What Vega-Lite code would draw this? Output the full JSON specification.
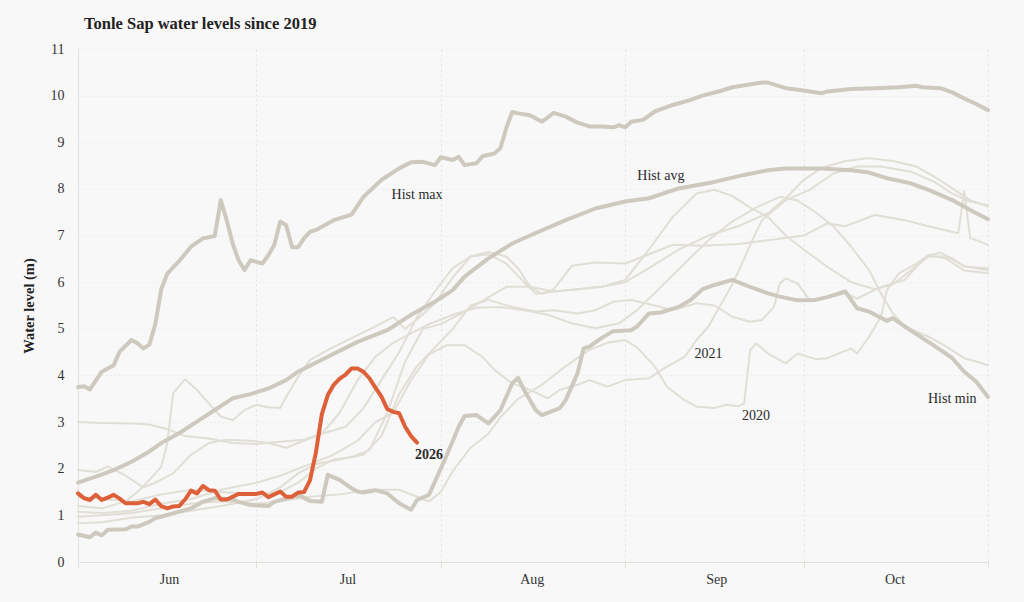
{
  "$schema": "https://vega.github.io/schema/vega-lite/v6.json",
  "width": 910,
  "height": 513,
  "autosize": {"type": "none"},
  "padding": {"left": 78, "top": 49, "right": 36, "bottom": 40},
  "background": "#f8f8f8",
  "title": {
    "text": "Tonle Sap water levels since 2019",
    "anchor": "start",
    "frame": "group",
    "dx": 6,
    "offset": 10,
    "font": "Liberation Serif",
    "fontSize": 16.5,
    "fontWeight": "bold",
    "color": "#222222"
  },
  "config": {
    "view": {"stroke": null},
    "font": "Liberation Serif",
    "axis": {
      "labelFont": "Liberation Serif",
      "labelFontSize": 14,
      "labelColor": "#333333",
      "titleFont": "Liberation Serif",
      "titleColor": "#222222",
      "domainColor": "#e2dfd8",
      "tickColor": "#e2dfd8",
      "gridColor": "#e4e4e4",
      "gridDash": [1, 3]
    }
  },
  "datasets": {
    "lines": [
      {"s":"2019","t":"2026-06-01","v":0.83},{"s":"2019","t":"2026-06-05","v":0.85},{"s":"2019","t":"2026-06-10","v":0.95},{"s":"2019","t":"2026-06-15","v":1.0},{"s":"2019","t":"2026-06-20","v":1.1},{"s":"2019","t":"2026-06-25","v":1.2},{"s":"2019","t":"2026-07-01","v":1.35},{"s":"2019","t":"2026-07-05","v":1.6},{"s":"2019","t":"2026-07-08","v":1.9},{"s":"2019","t":"2026-07-11","v":2.1},{"s":"2019","t":"2026-07-15","v":2.2},{"s":"2019","t":"2026-07-19","v":2.3},{"s":"2019","t":"2026-07-22","v":2.7},{"s":"2019","t":"2026-07-25","v":3.6},{"s":"2019","t":"2026-07-28","v":4.2},{"s":"2019","t":"2026-07-31","v":4.6},{"s":"2019","t":"2026-08-03","v":5.0},{"s":"2019","t":"2026-08-06","v":5.5},{"s":"2019","t":"2026-08-09","v":5.62},{"s":"2019","t":"2026-08-13","v":5.47},{"s":"2019","t":"2026-08-17","v":5.37},{"s":"2019","t":"2026-08-20","v":5.4},{"s":"2019","t":"2026-08-24","v":5.33},{"s":"2019","t":"2026-08-27","v":5.4},{"s":"2019","t":"2026-08-30","v":5.58},{"s":"2019","t":"2026-09-02","v":5.62},{"s":"2019","t":"2026-09-06","v":5.5},{"s":"2019","t":"2026-09-09","v":5.4},{"s":"2019","t":"2026-09-13","v":5.55},{"s":"2019","t":"2026-09-16","v":5.5},{"s":"2019","t":"2026-09-19","v":5.26},{"s":"2019","t":"2026-09-22","v":5.15},{"s":"2019","t":"2026-09-24","v":5.19},{"s":"2019","t":"2026-09-26","v":5.47},{"s":"2019","t":"2026-09-27","v":5.97},{"s":"2019","t":"2026-09-28","v":6.08},{"s":"2019","t":"2026-09-30","v":5.97},{"s":"2019","t":"2026-10-02","v":5.62},{"s":"2019","t":"2026-10-06","v":5.7},{"s":"2019","t":"2026-10-08","v":5.76},{"s":"2019","t":"2026-10-10","v":5.65},{"s":"2019","t":"2026-10-14","v":5.9},{"s":"2019","t":"2026-10-18","v":6.05},{"s":"2019","t":"2026-10-20","v":6.33},{"s":"2019","t":"2026-10-22","v":6.58},{"s":"2019","t":"2026-10-25","v":6.5},{"s":"2019","t":"2026-10-28","v":6.25},{"s":"2019","t":"2026-11-01","v":6.19},
      {"s":"2020","t":"2026-06-01","v":0.97},{"s":"2020","t":"2026-06-05","v":1.0},{"s":"2020","t":"2026-06-10","v":1.05},{"s":"2020","t":"2026-06-15","v":1.15},{"s":"2020","t":"2026-06-20","v":1.25},{"s":"2020","t":"2026-06-25","v":1.3},{"s":"2020","t":"2026-07-01","v":1.25},{"s":"2020","t":"2026-07-05","v":1.3},{"s":"2020","t":"2026-07-10","v":1.4},{"s":"2020","t":"2026-07-15","v":1.45},{"s":"2020","t":"2026-07-20","v":1.55},{"s":"2020","t":"2026-07-25","v":1.55},{"s":"2020","t":"2026-07-28","v":1.4},{"s":"2020","t":"2026-07-30","v":1.3},{"s":"2020","t":"2026-08-01","v":1.5},{"s":"2020","t":"2026-08-03","v":1.95},{"s":"2020","t":"2026-08-06","v":2.45},{"s":"2020","t":"2026-08-09","v":2.75},{"s":"2020","t":"2026-08-11","v":3.1},{"s":"2020","t":"2026-08-14","v":3.5},{"s":"2020","t":"2026-08-18","v":3.8},{"s":"2020","t":"2026-08-22","v":4.2},{"s":"2020","t":"2026-08-26","v":4.55},{"s":"2020","t":"2026-08-29","v":4.7},{"s":"2020","t":"2026-09-01","v":4.76},{"s":"2020","t":"2026-09-03","v":4.6},{"s":"2020","t":"2026-09-06","v":4.19},{"s":"2020","t":"2026-09-08","v":3.76},{"s":"2020","t":"2026-09-11","v":3.47},{"s":"2020","t":"2026-09-13","v":3.33},{"s":"2020","t":"2026-09-16","v":3.3},{"s":"2020","t":"2026-09-18","v":3.37},{"s":"2020","t":"2026-09-20","v":3.34},{"s":"2020","t":"2026-09-21","v":3.4},{"s":"2020","t":"2026-09-22","v":4.54},{"s":"2020","t":"2026-09-23","v":4.69},{"s":"2020","t":"2026-09-25","v":4.47},{"s":"2020","t":"2026-09-28","v":4.26},{"s":"2020","t":"2026-09-30","v":4.47},{"s":"2020","t":"2026-10-03","v":4.35},{"s":"2020","t":"2026-10-05","v":4.37},{"s":"2020","t":"2026-10-09","v":4.58},{"s":"2020","t":"2026-10-10","v":4.47},{"s":"2020","t":"2026-10-12","v":4.83},{"s":"2020","t":"2026-10-14","v":5.26},{"s":"2020","t":"2026-10-15","v":5.83},{"s":"2020","t":"2026-10-17","v":6.19},{"s":"2020","t":"2026-10-20","v":6.4},{"s":"2020","t":"2026-10-22","v":6.58},{"s":"2020","t":"2026-10-24","v":6.63},{"s":"2020","t":"2026-10-26","v":6.51},{"s":"2020","t":"2026-10-28","v":6.33},{"s":"2020","t":"2026-11-01","v":6.3},
      {"s":"2021","t":"2026-06-01","v":1.08},{"s":"2021","t":"2026-06-05","v":1.05},{"s":"2021","t":"2026-06-10","v":1.1},{"s":"2021","t":"2026-06-15","v":1.25},{"s":"2021","t":"2026-06-20","v":1.35},{"s":"2021","t":"2026-06-25","v":1.55},{"s":"2021","t":"2026-07-01","v":1.7},{"s":"2021","t":"2026-07-05","v":1.85},{"s":"2021","t":"2026-07-10","v":2.1},{"s":"2021","t":"2026-07-14","v":2.3},{"s":"2021","t":"2026-07-18","v":2.6},{"s":"2021","t":"2026-07-21","v":3.0},{"s":"2021","t":"2026-07-24","v":3.2},{"s":"2021","t":"2026-07-27","v":3.9},{"s":"2021","t":"2026-07-30","v":4.45},{"s":"2021","t":"2026-08-02","v":4.65},{"s":"2021","t":"2026-08-05","v":4.65},{"s":"2021","t":"2026-08-08","v":4.4},{"s":"2021","t":"2026-08-10","v":4.12},{"s":"2021","t":"2026-08-13","v":3.83},{"s":"2021","t":"2026-08-16","v":3.69},{"s":"2021","t":"2026-08-19","v":3.51},{"s":"2021","t":"2026-08-21","v":3.69},{"s":"2021","t":"2026-08-24","v":3.8},{"s":"2021","t":"2026-08-26","v":3.9},{"s":"2021","t":"2026-08-29","v":3.76},{"s":"2021","t":"2026-09-01","v":3.9},{"s":"2021","t":"2026-09-05","v":3.94},{"s":"2021","t":"2026-09-08","v":4.19},{"s":"2021","t":"2026-09-11","v":4.4},{"s":"2021","t":"2026-09-13","v":4.76},{"s":"2021","t":"2026-09-15","v":5.05},{"s":"2021","t":"2026-09-17","v":5.5},{"s":"2021","t":"2026-09-19","v":5.95},{"s":"2021","t":"2026-09-21","v":6.5},{"s":"2021","t":"2026-09-22","v":6.8},{"s":"2021","t":"2026-09-24","v":7.33},{"s":"2021","t":"2026-09-28","v":7.76},{"s":"2021","t":"2026-10-02","v":7.98},{"s":"2021","t":"2026-10-06","v":8.33},{"s":"2021","t":"2026-10-10","v":8.48},{"s":"2021","t":"2026-10-14","v":8.48},{"s":"2021","t":"2026-10-19","v":8.37},{"s":"2021","t":"2026-10-23","v":8.15},{"s":"2021","t":"2026-10-26","v":7.9},{"s":"2021","t":"2026-10-29","v":7.73},{"s":"2021","t":"2026-11-01","v":7.65},
      {"s":"2022","t":"2026-06-01","v":1.2},{"s":"2022","t":"2026-06-05","v":1.15},{"s":"2022","t":"2026-06-09","v":1.3},{"s":"2022","t":"2026-06-11","v":1.5},{"s":"2022","t":"2026-06-13","v":1.76},{"s":"2022","t":"2026-06-15","v":2.04},{"s":"2022","t":"2026-06-16","v":2.54},{"s":"2022","t":"2026-06-17","v":3.62},{"s":"2022","t":"2026-06-19","v":3.92},{"s":"2022","t":"2026-06-21","v":3.69},{"s":"2022","t":"2026-06-23","v":3.4},{"s":"2022","t":"2026-06-25","v":3.12},{"s":"2022","t":"2026-06-27","v":3.04},{"s":"2022","t":"2026-06-29","v":3.26},{"s":"2022","t":"2026-07-01","v":3.37},{"s":"2022","t":"2026-07-03","v":3.32},{"s":"2022","t":"2026-07-05","v":3.3},{"s":"2022","t":"2026-07-06","v":3.54},{"s":"2022","t":"2026-07-08","v":3.97},{"s":"2022","t":"2026-07-10","v":4.33},{"s":"2022","t":"2026-07-13","v":4.55},{"s":"2022","t":"2026-07-17","v":4.8},{"s":"2022","t":"2026-07-21","v":5.05},{"s":"2022","t":"2026-07-24","v":5.25},{"s":"2022","t":"2026-07-26","v":5.0},{"s":"2022","t":"2026-07-28","v":5.2},{"s":"2022","t":"2026-07-31","v":5.55},{"s":"2022","t":"2026-08-03","v":6.1},{"s":"2022","t":"2026-08-06","v":6.55},{"s":"2022","t":"2026-08-09","v":6.65},{"s":"2022","t":"2026-08-12","v":6.55},{"s":"2022","t":"2026-08-14","v":6.3},{"s":"2022","t":"2026-08-16","v":5.9},{"s":"2022","t":"2026-08-18","v":5.75},{"s":"2022","t":"2026-08-20","v":5.85},{"s":"2022","t":"2026-08-23","v":6.35},{"s":"2022","t":"2026-08-27","v":6.42},{"s":"2022","t":"2026-09-01","v":6.4},{"s":"2022","t":"2026-09-05","v":6.6},{"s":"2022","t":"2026-09-09","v":6.8},{"s":"2022","t":"2026-09-14","v":6.78},{"s":"2022","t":"2026-09-20","v":6.82},{"s":"2022","t":"2026-09-25","v":6.9},{"s":"2022","t":"2026-10-01","v":7.0},{"s":"2022","t":"2026-10-05","v":7.26},{"s":"2022","t":"2026-10-08","v":7.2},{"s":"2022","t":"2026-10-13","v":7.44},{"s":"2022","t":"2026-10-18","v":7.33},{"s":"2022","t":"2026-10-22","v":7.2},{"s":"2022","t":"2026-10-27","v":7.05},{"s":"2022","t":"2026-10-28","v":7.95},{"s":"2022","t":"2026-10-29","v":6.95},{"s":"2022","t":"2026-11-01","v":6.8},
      {"s":"2023","t":"2026-06-01","v":3.0},{"s":"2023","t":"2026-06-05","v":2.98},{"s":"2023","t":"2026-06-10","v":2.97},{"s":"2023","t":"2026-06-13","v":2.95},{"s":"2023","t":"2026-06-16","v":2.85},{"s":"2023","t":"2026-06-19","v":2.7},{"s":"2023","t":"2026-06-23","v":2.65},{"s":"2023","t":"2026-06-27","v":2.55},{"s":"2023","t":"2026-07-01","v":2.53},{"s":"2023","t":"2026-07-05","v":2.58},{"s":"2023","t":"2026-07-09","v":2.62},{"s":"2023","t":"2026-07-12","v":2.75},{"s":"2023","t":"2026-07-16","v":2.9},{"s":"2023","t":"2026-07-19","v":3.3},{"s":"2023","t":"2026-07-22","v":3.9},{"s":"2023","t":"2026-07-25","v":4.5},{"s":"2023","t":"2026-07-28","v":5.25},{"s":"2023","t":"2026-07-31","v":5.8},{"s":"2023","t":"2026-08-03","v":6.3},{"s":"2023","t":"2026-08-06","v":6.55},{"s":"2023","t":"2026-08-09","v":6.6},{"s":"2023","t":"2026-08-12","v":6.4},{"s":"2023","t":"2026-08-15","v":6.0},{"s":"2023","t":"2026-08-17","v":5.75},{"s":"2023","t":"2026-08-20","v":5.8},{"s":"2023","t":"2026-08-24","v":5.85},{"s":"2023","t":"2026-08-28","v":5.9},{"s":"2023","t":"2026-09-01","v":6.0},{"s":"2023","t":"2026-09-05","v":6.3},{"s":"2023","t":"2026-09-10","v":6.7},{"s":"2023","t":"2026-09-15","v":7.0},{"s":"2023","t":"2026-09-20","v":7.2},{"s":"2023","t":"2026-09-25","v":7.48},{"s":"2023","t":"2026-09-28","v":7.8},{"s":"2023","t":"2026-10-01","v":8.19},{"s":"2023","t":"2026-10-04","v":8.45},{"s":"2023","t":"2026-10-08","v":8.6},{"s":"2023","t":"2026-10-12","v":8.66},{"s":"2023","t":"2026-10-16","v":8.6},{"s":"2023","t":"2026-10-20","v":8.48},{"s":"2023","t":"2026-10-23","v":8.26},{"s":"2023","t":"2026-10-26","v":8.01},{"s":"2023","t":"2026-10-29","v":7.76},{"s":"2023","t":"2026-11-01","v":7.62},
      {"s":"2024","t":"2026-06-01","v":1.97},{"s":"2024","t":"2026-06-04","v":1.93},{"s":"2024","t":"2026-06-06","v":2.05},{"s":"2024","t":"2026-06-09","v":1.85},{"s":"2024","t":"2026-06-12","v":1.6},{"s":"2024","t":"2026-06-14","v":1.7},{"s":"2024","t":"2026-06-17","v":1.9},{"s":"2024","t":"2026-06-20","v":2.3},{"s":"2024","t":"2026-06-23","v":2.55},{"s":"2024","t":"2026-06-26","v":2.62},{"s":"2024","t":"2026-06-30","v":2.6},{"s":"2024","t":"2026-07-03","v":2.55},{"s":"2024","t":"2026-07-06","v":2.45},{"s":"2024","t":"2026-07-09","v":2.6},{"s":"2024","t":"2026-07-12","v":2.75},{"s":"2024","t":"2026-07-15","v":3.2},{"s":"2024","t":"2026-07-18","v":3.9},{"s":"2024","t":"2026-07-21","v":4.4},{"s":"2024","t":"2026-07-24","v":4.7},{"s":"2024","t":"2026-07-27","v":4.9},{"s":"2024","t":"2026-07-30","v":5.1},{"s":"2024","t":"2026-08-03","v":5.3},{"s":"2024","t":"2026-08-07","v":5.45},{"s":"2024","t":"2026-08-11","v":5.47},{"s":"2024","t":"2026-08-15","v":5.4},{"s":"2024","t":"2026-08-19","v":5.3},{"s":"2024","t":"2026-08-23","v":5.12},{"s":"2024","t":"2026-08-27","v":5.01},{"s":"2024","t":"2026-08-31","v":5.12},{"s":"2024","t":"2026-09-03","v":5.4},{"s":"2024","t":"2026-09-07","v":5.9},{"s":"2024","t":"2026-09-11","v":6.4},{"s":"2024","t":"2026-09-15","v":6.9},{"s":"2024","t":"2026-09-19","v":7.3},{"s":"2024","t":"2026-09-23","v":7.6},{"s":"2024","t":"2026-09-27","v":7.83},{"s":"2024","t":"2026-09-30","v":7.75},{"s":"2024","t":"2026-10-03","v":7.5},{"s":"2024","t":"2026-10-06","v":7.2},{"s":"2024","t":"2026-10-09","v":6.76},{"s":"2024","t":"2026-10-12","v":6.26},{"s":"2024","t":"2026-10-14","v":5.76},{"s":"2024","t":"2026-10-16","v":5.33},{"s":"2024","t":"2026-10-18","v":5.05},{"s":"2024","t":"2026-10-22","v":4.83},{"s":"2024","t":"2026-10-25","v":4.62},{"s":"2024","t":"2026-10-28","v":4.37},{"s":"2024","t":"2026-10-30","v":4.3},{"s":"2024","t":"2026-11-01","v":4.22},
      {"s":"2025","t":"2026-06-01","v":1.4},{"s":"2025","t":"2026-06-05","v":1.35},{"s":"2025","t":"2026-06-10","v":1.3},{"s":"2025","t":"2026-06-15","v":1.45},{"s":"2025","t":"2026-06-20","v":1.55},{"s":"2025","t":"2026-06-25","v":1.5},{"s":"2025","t":"2026-07-01","v":1.45},{"s":"2025","t":"2026-07-05","v":1.5},{"s":"2025","t":"2026-07-08","v":1.7},{"s":"2025","t":"2026-07-11","v":2.0},{"s":"2025","t":"2026-07-14","v":2.2},{"s":"2025","t":"2026-07-17","v":2.25},{"s":"2025","t":"2026-07-20","v":2.4},{"s":"2025","t":"2026-07-23","v":3.2},{"s":"2025","t":"2026-07-26","v":4.3},{"s":"2025","t":"2026-07-29","v":5.0},{"s":"2025","t":"2026-08-01","v":5.1},{"s":"2025","t":"2026-08-04","v":5.3},{"s":"2025","t":"2026-08-08","v":5.6},{"s":"2025","t":"2026-08-12","v":5.9},{"s":"2025","t":"2026-08-16","v":5.9},{"s":"2025","t":"2026-08-20","v":5.8},{"s":"2025","t":"2026-08-24","v":5.85},{"s":"2025","t":"2026-08-28","v":5.9},{"s":"2025","t":"2026-09-01","v":6.05},{"s":"2025","t":"2026-09-05","v":6.7},{"s":"2025","t":"2026-09-09","v":7.4},{"s":"2025","t":"2026-09-13","v":7.9},{"s":"2025","t":"2026-09-16","v":7.98},{"s":"2025","t":"2026-09-19","v":7.85},{"s":"2025","t":"2026-09-22","v":7.6},{"s":"2025","t":"2026-09-25","v":7.4},{"s":"2025","t":"2026-09-28","v":7.0},{"s":"2025","t":"2026-10-01","v":6.7},{"s":"2025","t":"2026-10-05","v":6.33},{"s":"2025","t":"2026-10-09","v":6.0},{"s":"2025","t":"2026-10-13","v":5.85},{"s":"2025","t":"2026-10-16","v":5.95},{"s":"2025","t":"2026-10-19","v":6.25},{"s":"2025","t":"2026-10-22","v":6.55},{"s":"2025","t":"2026-10-25","v":6.55},{"s":"2025","t":"2026-10-28","v":6.35},{"s":"2025","t":"2026-11-01","v":6.25},
      {"s":"Hist max","t":"2026-06-01","v":3.75},{"s":"Hist max","t":"2026-06-02","v":3.77},{"s":"Hist max","t":"2026-06-03","v":3.7},{"s":"Hist max","t":"2026-06-05","v":4.08},{"s":"Hist max","t":"2026-06-07","v":4.22},{"s":"Hist max","t":"2026-06-08","v":4.51},{"s":"Hist max","t":"2026-06-10","v":4.76},{"s":"Hist max","t":"2026-06-11","v":4.69},{"s":"Hist max","t":"2026-06-12","v":4.58},{"s":"Hist max","t":"2026-06-13","v":4.66},{"s":"Hist max","t":"2026-06-14","v":5.1},{"s":"Hist max","t":"2026-06-15","v":5.85},{"s":"Hist max","t":"2026-06-16","v":6.18},{"s":"Hist max","t":"2026-06-17","v":6.32},{"s":"Hist max","t":"2026-06-18","v":6.45},{"s":"Hist max","t":"2026-06-20","v":6.76},{"s":"Hist max","t":"2026-06-22","v":6.94},{"s":"Hist max","t":"2026-06-24","v":6.99},{"s":"Hist max","t":"2026-06-25","v":7.76},{"s":"Hist max","t":"2026-06-26","v":7.33},{"s":"Hist max","t":"2026-06-27","v":6.83},{"s":"Hist max","t":"2026-06-28","v":6.47},{"s":"Hist max","t":"2026-06-29","v":6.26},{"s":"Hist max","t":"2026-06-30","v":6.47},{"s":"Hist max","t":"2026-07-02","v":6.4},{"s":"Hist max","t":"2026-07-03","v":6.58},{"s":"Hist max","t":"2026-07-04","v":6.8},{"s":"Hist max","t":"2026-07-05","v":7.3},{"s":"Hist max","t":"2026-07-06","v":7.22},{"s":"Hist max","t":"2026-07-07","v":6.75},{"s":"Hist max","t":"2026-07-08","v":6.75},{"s":"Hist max","t":"2026-07-09","v":6.94},{"s":"Hist max","t":"2026-07-10","v":7.08},{"s":"Hist max","t":"2026-07-11","v":7.12},{"s":"Hist max","t":"2026-07-14","v":7.33},{"s":"Hist max","t":"2026-07-17","v":7.45},{"s":"Hist max","t":"2026-07-19","v":7.83},{"s":"Hist max","t":"2026-07-22","v":8.19},{"s":"Hist max","t":"2026-07-25","v":8.44},{"s":"Hist max","t":"2026-07-27","v":8.57},{"s":"Hist max","t":"2026-07-29","v":8.58},{"s":"Hist max","t":"2026-07-31","v":8.51},{"s":"Hist max","t":"2026-08-01","v":8.68},{"s":"Hist max","t":"2026-08-03","v":8.62},{"s":"Hist max","t":"2026-08-04","v":8.69},{"s":"Hist max","t":"2026-08-05","v":8.51},{"s":"Hist max","t":"2026-08-07","v":8.55},{"s":"Hist max","t":"2026-08-08","v":8.7},{"s":"Hist max","t":"2026-08-10","v":8.76},{"s":"Hist max","t":"2026-08-11","v":8.87},{"s":"Hist max","t":"2026-08-12","v":9.3},{"s":"Hist max","t":"2026-08-13","v":9.65},{"s":"Hist max","t":"2026-08-14","v":9.62},{"s":"Hist max","t":"2026-08-16","v":9.58},{"s":"Hist max","t":"2026-08-18","v":9.44},{"s":"Hist max","t":"2026-08-20","v":9.63},{"s":"Hist max","t":"2026-08-22","v":9.55},{"s":"Hist max","t":"2026-08-24","v":9.42},{"s":"Hist max","t":"2026-08-26","v":9.34},{"s":"Hist max","t":"2026-08-28","v":9.34},{"s":"Hist max","t":"2026-08-30","v":9.32},{"s":"Hist max","t":"2026-08-31","v":9.37},{"s":"Hist max","t":"2026-09-01","v":9.32},{"s":"Hist max","t":"2026-09-02","v":9.44},{"s":"Hist max","t":"2026-09-04","v":9.48},{"s":"Hist max","t":"2026-09-06","v":9.66},{"s":"Hist max","t":"2026-09-09","v":9.8},{"s":"Hist max","t":"2026-09-12","v":9.91},{"s":"Hist max","t":"2026-09-14","v":10.0},{"s":"Hist max","t":"2026-09-17","v":10.1},{"s":"Hist max","t":"2026-09-19","v":10.18},{"s":"Hist max","t":"2026-09-24","v":10.28},{"s":"Hist max","t":"2026-09-25","v":10.28},{"s":"Hist max","t":"2026-09-28","v":10.16},{"s":"Hist max","t":"2026-10-01","v":10.11},{"s":"Hist max","t":"2026-10-04","v":10.05},{"s":"Hist max","t":"2026-10-05","v":10.09},{"s":"Hist max","t":"2026-10-09","v":10.14},{"s":"Hist max","t":"2026-10-13","v":10.16},{"s":"Hist max","t":"2026-10-17","v":10.18},{"s":"Hist max","t":"2026-10-20","v":10.21},{"s":"Hist max","t":"2026-10-21","v":10.18},{"s":"Hist max","t":"2026-10-24","v":10.16},{"s":"Hist max","t":"2026-10-26","v":10.07},{"s":"Hist max","t":"2026-10-28","v":9.94},{"s":"Hist max","t":"2026-10-30","v":9.82},{"s":"Hist max","t":"2026-11-01","v":9.69},
      {"s":"Hist avg","t":"2026-06-01","v":1.7},{"s":"Hist avg","t":"2026-06-04","v":1.83},{"s":"Hist avg","t":"2026-06-07","v":1.97},{"s":"Hist avg","t":"2026-06-10","v":2.15},{"s":"Hist avg","t":"2026-06-13","v":2.37},{"s":"Hist avg","t":"2026-06-15","v":2.55},{"s":"Hist avg","t":"2026-06-18","v":2.76},{"s":"Hist avg","t":"2026-06-21","v":3.01},{"s":"Hist avg","t":"2026-06-24","v":3.26},{"s":"Hist avg","t":"2026-06-27","v":3.51},{"s":"Hist avg","t":"2026-06-30","v":3.6},{"s":"Hist avg","t":"2026-07-03","v":3.72},{"s":"Hist avg","t":"2026-07-06","v":3.9},{"s":"Hist avg","t":"2026-07-08","v":4.08},{"s":"Hist avg","t":"2026-07-13","v":4.4},{"s":"Hist avg","t":"2026-07-18","v":4.72},{"s":"Hist avg","t":"2026-07-23","v":4.97},{"s":"Hist avg","t":"2026-07-27","v":5.3},{"s":"Hist avg","t":"2026-07-31","v":5.58},{"s":"Hist avg","t":"2026-08-03","v":5.83},{"s":"Hist avg","t":"2026-08-05","v":6.12},{"s":"Hist avg","t":"2026-08-09","v":6.51},{"s":"Hist avg","t":"2026-08-13","v":6.83},{"s":"Hist avg","t":"2026-08-16","v":7.0},{"s":"Hist avg","t":"2026-08-22","v":7.33},{"s":"Hist avg","t":"2026-08-27","v":7.58},{"s":"Hist avg","t":"2026-09-01","v":7.73},{"s":"Hist avg","t":"2026-09-05","v":7.8},{"s":"Hist avg","t":"2026-09-10","v":8.01},{"s":"Hist avg","t":"2026-09-16","v":8.15},{"s":"Hist avg","t":"2026-09-21","v":8.3},{"s":"Hist avg","t":"2026-09-25","v":8.4},{"s":"Hist avg","t":"2026-09-28","v":8.44},{"s":"Hist avg","t":"2026-10-04","v":8.44},{"s":"Hist avg","t":"2026-10-09","v":8.4},{"s":"Hist avg","t":"2026-10-12","v":8.35},{"s":"Hist avg","t":"2026-10-15","v":8.23},{"s":"Hist avg","t":"2026-10-19","v":8.12},{"s":"Hist avg","t":"2026-10-22","v":7.98},{"s":"Hist avg","t":"2026-10-26","v":7.76},{"s":"Hist avg","t":"2026-10-29","v":7.55},{"s":"Hist avg","t":"2026-11-01","v":7.35},
      {"s":"Hist min","t":"2026-06-01","v":0.59},{"s":"Hist min","t":"2026-06-03","v":0.53},{"s":"Hist min","t":"2026-06-04","v":0.63},{"s":"Hist min","t":"2026-06-05","v":0.57},{"s":"Hist min","t":"2026-06-06","v":0.69},{"s":"Hist min","t":"2026-06-09","v":0.7},{"s":"Hist min","t":"2026-06-10","v":0.76},{"s":"Hist min","t":"2026-06-11","v":0.76},{"s":"Hist min","t":"2026-06-13","v":0.86},{"s":"Hist min","t":"2026-06-14","v":0.94},{"s":"Hist min","t":"2026-06-15","v":0.97},{"s":"Hist min","t":"2026-06-18","v":1.08},{"s":"Hist min","t":"2026-06-20","v":1.15},{"s":"Hist min","t":"2026-06-22","v":1.29},{"s":"Hist min","t":"2026-06-24","v":1.37},{"s":"Hist min","t":"2026-06-27","v":1.34},{"s":"Hist min","t":"2026-06-28","v":1.29},{"s":"Hist min","t":"2026-06-30","v":1.22},{"s":"Hist min","t":"2026-07-03","v":1.2},{"s":"Hist min","t":"2026-07-04","v":1.29},{"s":"Hist min","t":"2026-07-07","v":1.4},{"s":"Hist min","t":"2026-07-08","v":1.44},{"s":"Hist min","t":"2026-07-10","v":1.31},{"s":"Hist min","t":"2026-07-12","v":1.29},{"s":"Hist min","t":"2026-07-13","v":1.87},{"s":"Hist min","t":"2026-07-15","v":1.76},{"s":"Hist min","t":"2026-07-17","v":1.58},{"s":"Hist min","t":"2026-07-18","v":1.51},{"s":"Hist min","t":"2026-07-19","v":1.49},{"s":"Hist min","t":"2026-07-21","v":1.54},{"s":"Hist min","t":"2026-07-23","v":1.47},{"s":"Hist min","t":"2026-07-25","v":1.26},{"s":"Hist min","t":"2026-07-27","v":1.12},{"s":"Hist min","t":"2026-07-28","v":1.33},{"s":"Hist min","t":"2026-07-30","v":1.44},{"s":"Hist min","t":"2026-07-31","v":1.72},{"s":"Hist min","t":"2026-08-02","v":2.29},{"s":"Hist min","t":"2026-08-04","v":2.9},{"s":"Hist min","t":"2026-08-05","v":3.13},{"s":"Hist min","t":"2026-08-07","v":3.15},{"s":"Hist min","t":"2026-08-09","v":2.97},{"s":"Hist min","t":"2026-08-11","v":3.25},{"s":"Hist min","t":"2026-08-13","v":3.83},{"s":"Hist min","t":"2026-08-14","v":3.95},{"s":"Hist min","t":"2026-08-15","v":3.69},{"s":"Hist min","t":"2026-08-17","v":3.25},{"s":"Hist min","t":"2026-08-18","v":3.15},{"s":"Hist min","t":"2026-08-21","v":3.3},{"s":"Hist min","t":"2026-08-22","v":3.47},{"s":"Hist min","t":"2026-08-24","v":4.05},{"s":"Hist min","t":"2026-08-25","v":4.58},{"s":"Hist min","t":"2026-08-26","v":4.62},{"s":"Hist min","t":"2026-08-28","v":4.8},{"s":"Hist min","t":"2026-08-30","v":4.95},{"s":"Hist min","t":"2026-09-02","v":4.97},{"s":"Hist min","t":"2026-09-03","v":5.05},{"s":"Hist min","t":"2026-09-05","v":5.33},{"s":"Hist min","t":"2026-09-07","v":5.35},{"s":"Hist min","t":"2026-09-10","v":5.47},{"s":"Hist min","t":"2026-09-12","v":5.62},{"s":"Hist min","t":"2026-09-14","v":5.85},{"s":"Hist min","t":"2026-09-16","v":5.94},{"s":"Hist min","t":"2026-09-19","v":6.05},{"s":"Hist min","t":"2026-09-22","v":5.9},{"s":"Hist min","t":"2026-09-25","v":5.76},{"s":"Hist min","t":"2026-09-27","v":5.69},{"s":"Hist min","t":"2026-09-30","v":5.61},{"s":"Hist min","t":"2026-10-03","v":5.62},{"s":"Hist min","t":"2026-10-05","v":5.68},{"s":"Hist min","t":"2026-10-08","v":5.8},{"s":"Hist min","t":"2026-10-10","v":5.44},{"s":"Hist min","t":"2026-10-12","v":5.37},{"s":"Hist min","t":"2026-10-13","v":5.3},{"s":"Hist min","t":"2026-10-15","v":5.17},{"s":"Hist min","t":"2026-10-16","v":5.23},{"s":"Hist min","t":"2026-10-18","v":5.05},{"s":"Hist min","t":"2026-10-21","v":4.8},{"s":"Hist min","t":"2026-10-24","v":4.55},{"s":"Hist min","t":"2026-10-26","v":4.37},{"s":"Hist min","t":"2026-10-28","v":4.08},{"s":"Hist min","t":"2026-10-30","v":3.87},{"s":"Hist min","t":"2026-11-01","v":3.54},
      {"s":"2026","t":"2026-06-01","v":1.47},{"s":"2026","t":"2026-06-02","v":1.37},{"s":"2026","t":"2026-06-03","v":1.33},{"s":"2026","t":"2026-06-04","v":1.44},{"s":"2026","t":"2026-06-05","v":1.33},{"s":"2026","t":"2026-06-06","v":1.38},{"s":"2026","t":"2026-06-07","v":1.44},{"s":"2026","t":"2026-06-08","v":1.36},{"s":"2026","t":"2026-06-09","v":1.26},{"s":"2026","t":"2026-06-10","v":1.26},{"s":"2026","t":"2026-06-11","v":1.26},{"s":"2026","t":"2026-06-12","v":1.29},{"s":"2026","t":"2026-06-13","v":1.24},{"s":"2026","t":"2026-06-14","v":1.34},{"s":"2026","t":"2026-06-15","v":1.2},{"s":"2026","t":"2026-06-16","v":1.15},{"s":"2026","t":"2026-06-17","v":1.19},{"s":"2026","t":"2026-06-18","v":1.2},{"s":"2026","t":"2026-06-19","v":1.34},{"s":"2026","t":"2026-06-20","v":1.53},{"s":"2026","t":"2026-06-21","v":1.47},{"s":"2026","t":"2026-06-22","v":1.63},{"s":"2026","t":"2026-06-23","v":1.54},{"s":"2026","t":"2026-06-24","v":1.53},{"s":"2026","t":"2026-06-25","v":1.34},{"s":"2026","t":"2026-06-26","v":1.34},{"s":"2026","t":"2026-06-27","v":1.4},{"s":"2026","t":"2026-06-28","v":1.46},{"s":"2026","t":"2026-06-29","v":1.46},{"s":"2026","t":"2026-06-30","v":1.46},{"s":"2026","t":"2026-07-01","v":1.46},{"s":"2026","t":"2026-07-02","v":1.49},{"s":"2026","t":"2026-07-03","v":1.39},{"s":"2026","t":"2026-07-04","v":1.45},{"s":"2026","t":"2026-07-05","v":1.51},{"s":"2026","t":"2026-07-06","v":1.4},{"s":"2026","t":"2026-07-07","v":1.4},{"s":"2026","t":"2026-07-08","v":1.49},{"s":"2026","t":"2026-07-09","v":1.5},{"s":"2026","t":"2026-07-10","v":1.75},{"s":"2026","t":"2026-07-11","v":2.35},{"s":"2026","t":"2026-07-12","v":3.17},{"s":"2026","t":"2026-07-13","v":3.58},{"s":"2026","t":"2026-07-14","v":3.8},{"s":"2026","t":"2026-07-15","v":3.93},{"s":"2026","t":"2026-07-16","v":4.02},{"s":"2026","t":"2026-07-17","v":4.15},{"s":"2026","t":"2026-07-18","v":4.15},{"s":"2026","t":"2026-07-19","v":4.08},{"s":"2026","t":"2026-07-20","v":3.94},{"s":"2026","t":"2026-07-21","v":3.74},{"s":"2026","t":"2026-07-22","v":3.55},{"s":"2026","t":"2026-07-23","v":3.28},{"s":"2026","t":"2026-07-24","v":3.22},{"s":"2026","t":"2026-07-25","v":3.19},{"s":"2026","t":"2026-07-26","v":2.9},{"s":"2026","t":"2026-07-27","v":2.7},{"s":"2026","t":"2026-07-28","v":2.56}
    ],
    "labels": [
      {"label":"Hist max","t":"2026-07-28","v":7.88},
      {"label":"Hist avg","t":"2026-09-07","v":8.27},
      {"label":"2021","t":"2026-09-15","v":4.47},
      {"label":"2020","t":"2026-09-23","v":3.13},
      {"label":"Hist min","t":"2026-10-26","v":3.49},
      {"label":"2026","t":"2026-07-30","v":2.29}
    ]
  },
  "encoding": {
    "x": {
      "field": "t",
      "type": "temporal",
      "title": null,
      "scale": {
        "type": "utc",
        "domain": [
          {"year": 2026, "month": 6, "date": 1, "utc": true},
          {"year": 2026, "month": 11, "date": 1, "utc": true}
        ]
      },
      "axis": {
        "values": [
          {"year": 2026, "month": 6, "date": 1, "utc": true},
          {"year": 2026, "month": 7, "date": 1, "utc": true},
          {"year": 2026, "month": 8, "date": 1, "utc": true},
          {"year": 2026, "month": 9, "date": 1, "utc": true},
          {"year": 2026, "month": 10, "date": 1, "utc": true},
          {"year": 2026, "month": 11, "date": 1, "utc": true}
        ],
        "labelExpr": "utcmonth(datum.value) == 10 ? '' : utcFormat(datum.value, '%b')",
        "labelOffset": 91,
        "labelFlush": false,
        "labelOverlap": false,
        "labelPadding": 4,
        "tickSize": 6,
        "grid": true,
        "gridDash": [2, 3],
        "gridColor": "#e2e2e2"
      }
    },
    "y": {
      "field": "v",
      "type": "quantitative",
      "title": "Water level (m)",
      "scale": {"domain": [0, 11], "nice": false},
      "axis": {
        "values": [0, 1, 2, 3, 4, 5, 6, 7, 8, 9, 10, 11],
        "format": "d",
        "ticks": false,
        "labelPadding": 14,
        "titleFontSize": 14.5,
        "titleFontWeight": "bold",
        "titlePadding": 14,
        "grid": true
      }
    }
  },
  "layer": [
    {
      "data": {"name": "lines"},
      "transform": [{"filter": {"field": "s", "oneOf": ["2019", "2020", "2021", "2022", "2023", "2024", "2025"]}}],
      "mark": {"type": "line", "color": "#e1ded6", "strokeWidth": 2, "strokeJoin": "round", "strokeCap": "round"},
      "encoding": {"detail": {"field": "s"}}
    },
    {
      "data": {"name": "lines"},
      "transform": [{"filter": {"field": "s", "oneOf": ["Hist max", "Hist avg", "Hist min"]}}],
      "mark": {"type": "line", "color": "#cdc9be", "strokeWidth": 4, "strokeJoin": "round", "strokeCap": "round"},
      "encoding": {"detail": {"field": "s"}}
    },
    {
      "data": {"name": "lines"},
      "transform": [{"filter": {"field": "s", "equal": "2026"}}],
      "mark": {"type": "line", "color": "#de6039", "strokeWidth": 4, "strokeJoin": "round", "strokeCap": "round"},
      "encoding": {}
    },
    {
      "data": {"name": "labels"},
      "transform": [{"filter": "datum.label != '2026'"}],
      "mark": {"type": "text", "font": "Liberation Serif", "fontSize": 14, "color": "#2a2a2a", "baseline": "middle", "align": "center"},
      "encoding": {"text": {"field": "label"}}
    },
    {
      "data": {"name": "labels"},
      "transform": [{"filter": "datum.label == '2026'"}],
      "mark": {"type": "text", "font": "Liberation Serif", "fontSize": 14, "fontWeight": "bold", "color": "#2a2a2a", "baseline": "middle", "align": "center"},
      "encoding": {"text": {"field": "label"}}
    }
  ]
}
